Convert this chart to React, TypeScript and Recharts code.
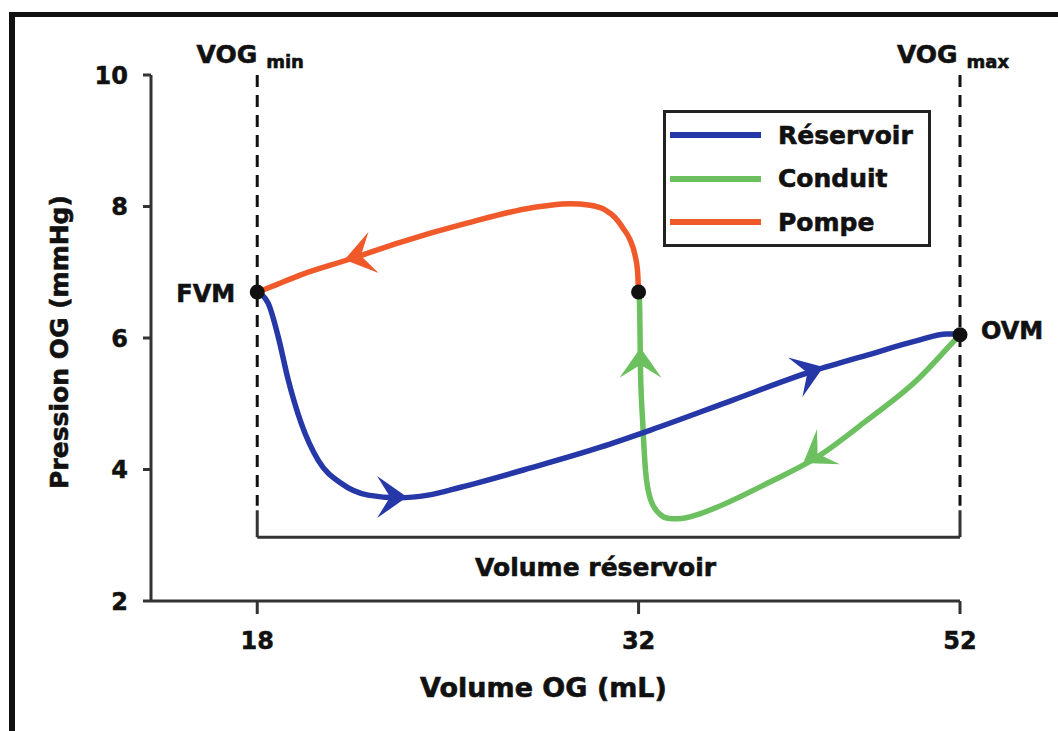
import React from 'react';
import { ComposedChart, Line, Scatter, XAxis, YAxis, ReferenceLine } from 'recharts';

const FONT = '"DejaVu Sans", "Liberation Sans", sans-serif';
const INK = '#111';
const AXIS = '#333';
const BLUE = '#2638a8';
const GREEN = '#6cc05f';
const RED = '#f05a2b';

// volumes in mL, pressures in mmHg
const RESERVOIR_VOL = [18, 18.4, 18.77, 19.14, 19.61, 20.24, 21.08, 22.07, 23.17, 24.27, 25.47, 28, 30.6, 32.75, 37.9, 42.5, 46.22, 49.33, 51.19, 52];
const RESERVOIR_P = [6.7, 6.53, 6.02, 5.36, 4.71, 4.14, 3.79, 3.61, 3.57, 3.61, 3.73, 4.02, 4.34, 4.6, 5.06, 5.47, 5.74, 5.96, 6.06, 6.06];

const CONDUIT_VOL = [52, 51.39, 49.33, 46.22, 43.12, 40.01, 36.91, 35.86, 34.43, 33.8, 33.37, 32.75, 32.43, 32.25, 32.12, 32.06, 32];
const CONDUIT_P = [6.05, 5.89, 5.36, 4.75, 4.19, 3.79, 3.43, 3.33, 3.25, 3.26, 3.31, 3.54, 3.99, 4.75, 5.51, 6.53, 6.7];

const POMPE_VOL = [32, 31.96, 31.87, 31.69, 31.43, 31.14, 30.77, 30.22, 29.49, 28.76, 28.13, 25.73, 23.28, 21.33, 19.6, 18.4, 18];
const POMPE_P = [6.7, 7.03, 7.26, 7.49, 7.67, 7.83, 7.95, 8.02, 8.04, 8.02, 7.985, 7.75, 7.46, 7.19, 6.96, 6.76, 6.7];

// arrow tips along each loop
const RESERVOIR_ARROW_VOL = [23.5, 43.5];
const RESERVOIR_ARROW_P = [3.58, 5.56];
const CONDUIT_ARROW_VOL = [42.25, 32.12];
const CONDUIT_ARROW_P = [4.1, 5.85];
const POMPE_ARROW_VOL = [21.2];
const POMPE_ARROW_P = [7.19];

const KEY_NAMES = ['FVM', '', 'OVM'];
const KEY_VOL = [18, 32, 52];
const KEY_P = [6.7, 6.7, 6.05];

const X_TICKS = [18, 32, 52];
const Y_TICKS = [2, 4, 6, 8, 10];
const VOG_MIN = 18;
const VOG_MAX = 52;
const BRACKET_P = 2.97;
const BRACKET_TOP = 3.38;

// the printed volume axis is not linear: 32->52 mL is squeezed
const SQUEEZE = 0.59;
const warp = (v: number) => (v <= 32 ? v : 32 + (v - 32) * SQUEEZE);
const unwarp = (u: number) => (u <= 32 ? u : 32 + (u - 32) / SQUEEZE);

const toRows = (vols: number[], ps: number[]) => vols.map((v, i) => ({ u: warp(v), p: ps[i] }));

// heading of each arrowhead on screen, degrees
const HEADINGS: Record<string, number[]> = {
  reservoir: [0, -20],
  conduit: [147, -90],
  pompe: [166],
};

const SERIES = [
  { key: 'conduit', name: 'Conduit', color: GREEN, rows: toRows(CONDUIT_VOL, CONDUIT_P), arrows: toRows(CONDUIT_ARROW_VOL, CONDUIT_ARROW_P) },
  { key: 'reservoir', name: 'Réservoir', color: BLUE, rows: toRows(RESERVOIR_VOL, RESERVOIR_P), arrows: toRows(RESERVOIR_ARROW_VOL, RESERVOIR_ARROW_P) },
  { key: 'pompe', name: 'Pompe', color: RED, rows: toRows(POMPE_VOL, POMPE_P), arrows: toRows(POMPE_ARROW_VOL, POMPE_ARROW_P) },
];
const LEGEND_ORDER = ['reservoir', 'conduit', 'pompe'];

const keyRows = KEY_VOL.map((v, i) => ({ u: warp(v), p: KEY_P[i], name: KEY_NAMES[i], side: i === 0 ? 'left' : 'right' }));

// bold text in the figure is heavier than the installed bold, so a thin outline is added
const HEAVY = { stroke: INK, strokeWidth: 0.6 };

const arrowShape = (key: string) => (props: any) => {
  const { cx, cy, payload, fill } = props;
  if (!Number.isFinite(cx) || !Number.isFinite(cy)) return <g />;
  const s = SERIES.find((x) => x.key === key)!;
  const i = s.arrows.findIndex((r) => r.u === payload.u && r.p === payload.p);
  return (
    <path
      d="M0,0 L-30,-21 L-17,0 L-30,21 Z"
      fill={fill || s.color}
      transform={`translate(${cx},${cy}) rotate(${HEADINGS[key][i] ?? 0})`}
    />
  );
};

const keyShape = (props: any) => {
  const { cx, cy, payload } = props;
  if (!Number.isFinite(cx) || !Number.isFinite(cy)) return <g />;
  const left = payload.side === 'left';
  return (
    <g>
      <circle cx={cx} cy={cy} r={7.5} fill={INK} />
      {payload.name ? (
        <text
          x={left ? cx - 22 : cx + 21}
          y={cy + (left ? 2 : -4)}
          textAnchor={left ? 'end' : 'start'}
          dominantBaseline="central"
          fontFamily={FONT}
          fontWeight="bold"
          fontSize={24}
          fill={INK}
          {...HEAVY}
        >
          {payload.name}
        </text>
      ) : null}
    </g>
  );
};

const vogLabel = (sub: string) => (props: any) => {
  const vb = props.viewBox || {};
  const x = (vb.x ?? 0) + (vb.width || 0) / 2 - 7;
  const y = (vb.y ?? 0) - 12;
  return (
    <text x={x} y={y} textAnchor="middle" fontFamily={FONT} fontWeight="bold" fill={INK} {...HEAVY}>
      <tspan fontSize={25}>VOG</tspan>
      <tspan fontSize={18} dx={9} dy={5}>{sub}</tspan>
    </text>
  );
};

const bracketLabel = (props: any) => {
  const vb = props.viewBox || {};
  return (
    <text
      x={(vb.x ?? 0) + (vb.width || 0) / 2 - 13}
      y={(vb.y ?? 0) + 39}
      textAnchor="middle"
      fontFamily={FONT}
      fontWeight="bold"
      fontSize={25}
      fill={INK}
      {...HEAVY}
    >
      Volume réservoir
    </text>
  );
};

const xTitle = (props: any) => {
  const vb = props.viewBox || {};
  return (
    <text
      x={(vb.x ?? 0) + (vb.width || 0) / 2 - 12}
      y={(vb.y ?? 0) + 96}
      textAnchor="middle"
      fontFamily={FONT}
      fontWeight="bold"
      fontSize={27}
      fill={INK}
      {...HEAVY}
    >
      Volume OG (mL)
    </text>
  );
};

const yTitle = (props: any) => {
  const vb = props.viewBox || {};
  const x = (vb.x ?? 0) + 59;
  const y = (vb.y ?? 0) + (vb.height || 0) / 2 + 4;
  return (
    <text
      x={x}
      y={y}
      transform={`rotate(-90, ${x}, ${y})`}
      textAnchor="middle"
      dominantBaseline="central"
      fontFamily={FONT}
      fontWeight="bold"
      fontSize={25}
      fill={INK}
      {...HEAVY}
    >
      Pression OG (mmHg)
    </text>
  );
};

const tickStyle = { fill: INK, fontSize: 24, fontFamily: FONT, fontWeight: 'bold', stroke: INK, strokeWidth: 0.5 };

export default function App() {
  return (
    <div style={{ position: 'absolute', left: 0, top: 0, width: 1058, height: 731, overflow: 'hidden', background: '#fff' }}>
      <div
        style={{
          position: 'absolute',
          left: 9,
          top: 12,
          width: 1100,
          height: 800,
          borderLeft: `6px solid ${INK}`,
          borderTop: `5px solid ${INK}`,
        }}
      />
      <div style={{ position: 'absolute', left: 0, top: 0 }}>
        <ComposedChart width={1058} height={731} margin={{ top: 75, right: 98, bottom: 20, left: 0 }}>
          <XAxis
            type="number"
            dataKey="u"
            domain={[warp(14.1), warp(52)]}
            ticks={X_TICKS.map(warp)}
            interval={0}
            tickFormatter={(u: number) => String(Math.round(unwarp(u)))}
            height={110}
            tickSize={13}
            tickMargin={18}
            axisLine={{ stroke: AXIS, strokeWidth: 3 }}
            tickLine={{ stroke: AXIS, strokeWidth: 3 }}
            tick={tickStyle}
            label={xTitle}
          />
          <YAxis
            type="number"
            dataKey="p"
            domain={[2, 10]}
            ticks={Y_TICKS}
            interval={0}
            width={151}
            tickSize={8}
            tickMargin={15}
            axisLine={{ stroke: AXIS, strokeWidth: 3 }}
            tickLine={{ stroke: AXIS, strokeWidth: 3 }}
            tick={tickStyle}
            label={yTitle}
          />

          <ReferenceLine
            segment={[{ x: warp(VOG_MIN), y: 10 }, { x: warp(VOG_MIN), y: BRACKET_TOP + 0.07 }]}
            stroke={INK}
            strokeWidth={3}
            strokeDasharray="12 8"
            ifOverflow="visible"
            label={vogLabel('min')}
          />
          <ReferenceLine
            segment={[{ x: warp(VOG_MAX), y: 10 }, { x: warp(VOG_MAX), y: BRACKET_TOP + 0.07 }]}
            stroke={INK}
            strokeWidth={3}
            strokeDasharray="12 8"
            ifOverflow="visible"
            label={vogLabel('max')}
          />
          <ReferenceLine
            segment={[{ x: warp(VOG_MIN), y: BRACKET_TOP }, { x: warp(VOG_MIN), y: BRACKET_P }]}
            stroke={AXIS}
            strokeWidth={3}
            ifOverflow="visible"
          />
          <ReferenceLine
            segment={[{ x: warp(VOG_MAX), y: BRACKET_TOP }, { x: warp(VOG_MAX), y: BRACKET_P }]}
            stroke={AXIS}
            strokeWidth={3}
            ifOverflow="visible"
          />
          <ReferenceLine
            segment={[{ x: warp(VOG_MIN), y: BRACKET_P }, { x: warp(VOG_MAX), y: BRACKET_P }]}
            stroke={AXIS}
            strokeWidth={3}
            ifOverflow="visible"
            label={bracketLabel}
          />

          {SERIES.map((s) => (
            <Line
              key={s.key}
              data={s.rows}
              dataKey="p"
              type="monotone"
              stroke={s.color}
              strokeWidth={5.5}
              strokeLinecap="round"
              dot={false}
              activeDot={false}
              isAnimationActive={false}
            />
          ))}
          {SERIES.map((s) => (
            <Scatter
              key={s.key + '-arrows'}
              data={s.arrows}
              fill={s.color}
              shape={arrowShape(s.key)}
              isAnimationActive={false}
            />
          ))}
          <Scatter data={keyRows} fill={INK} shape={keyShape} isAnimationActive={false} />
        </ComposedChart>
      </div>

      <div
        style={{
          position: 'absolute',
          left: 663,
          top: 110,
          width: 262,
          height: 131,
          border: '3px solid #222',
          background: '#fff',
          fontFamily: FONT,
          fontWeight: 'bold',
          fontSize: 25,
          color: INK,
          WebkitTextStroke: '0.6px #111',
        }}
      >
        {LEGEND_ORDER.map((k, i) => {
          const s = SERIES.find((x) => x.key === k)!;
          return (
            <div
              key={k}
              style={{ position: 'absolute', left: 4, top: 7 + i * 43.5, height: 30, display: 'flex', alignItems: 'center' }}
            >
              <div style={{ width: 91, height: 6, background: s.color, marginRight: 17 }} />
              <span style={{ lineHeight: 1 }}>{s.name}</span>
            </div>
          );
        })}
      </div>
    </div>
  );
}
